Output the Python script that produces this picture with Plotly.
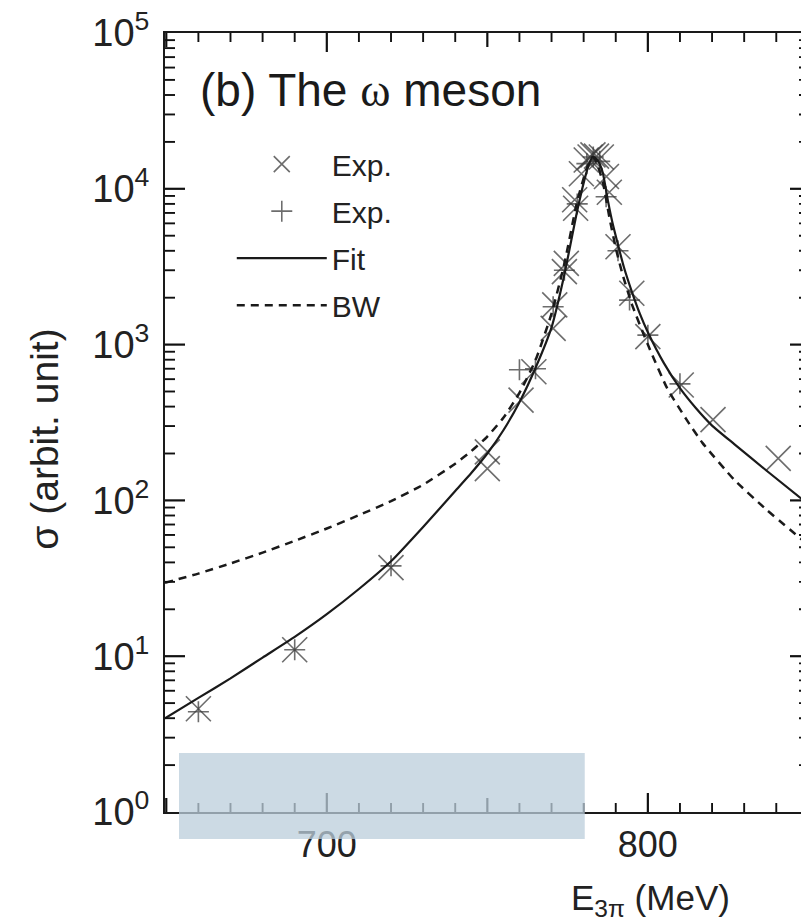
import math
import plotly.graph_objects as go

# ---------------- data ----------------
exp_x_E = [660, 690, 720, 750, 750, 760.5, 764.5, 770.5, 771, 774, 774.6, 777.5, 777.2,
           779.3, 780.8, 782.0, 782.9, 784.0, 785.5, 787.1, 788.0, 790.7, 795, 800,
           810.4, 820.3, 840.6]
exp_x_sigma = [4.6, 11, 37, 205, 160, 440, 670, 1270, 1800, 2940, 3320, 7500, 8500,
               12500, 15300, 16000, 16500, 16200, 16000, 12000, 9500, 4250, 2135, 1125,
               550, 330, 186]

exp_p_E = [660, 690, 720, 760, 765, 770.5, 774, 778, 781, 783, 785, 787, 790.7, 794.3,
           800, 810]
exp_p_sigma = [4.4, 11, 38, 690, 700, 1750, 3000, 8000, 14500, 16000, 15000, 8900, 4000,
               1930, 1150, 560]

fit_E = [649.6, 660, 670, 680, 690, 700, 710, 720, 730, 740, 745, 750, 755, 760, 765,
         770, 774, 778, 780.8, 782, 782.8, 784, 785, 786, 787.6, 789, 790.7, 792.5, 795,
         797.5, 800, 805, 810, 815, 820, 827, 837, 848]
fit_sigma = [4.0, 5.4, 7.2, 9.8, 13.3, 18.6, 27, 40.7, 67.6, 115, 150, 200, 282, 427,
             708, 1290, 2820, 7240, 12600, 15000, 16000, 15500, 14450, 12600, 8300, 6030,
             4370, 3160, 2190, 1580, 1200, 760, 525, 390, 302, 229, 155, 102]

bw_E = [649.6, 660, 670, 680, 690, 700, 710, 720, 730, 740, 745, 750, 755, 760, 765,
        770, 774, 778, 780.8, 782.8, 784, 786, 788, 790, 792, 795, 800, 806, 812, 817,
        827, 837, 848]
bw_sigma = [29.6, 33.9, 39.4, 46.2, 55, 66, 80.4, 98.9, 126, 172, 207, 257, 339, 490,
            794, 1580, 3310, 8320, 13200, 16000, 14800, 11000, 6600, 4170, 2880, 1820,
            1000, 525, 331, 234, 135, 87, 56]

# ---------------- ticks ----------------
x_tickvals = [700, 800]
x_ticktext = ["700", "800"]
x_mid_ticks = [650, 750]
x_minor_ticks = [v for v in range(660, 850, 10) if v % 50 != 0]
y_tickvals = [1, 10, 100, 1000, 10000, 100000]
y_ticktext = ["10<sup>0</sup>", "10<sup>1</sup>", "10<sup>2</sup>", "10<sup>3</sup>",
              "10<sup>4</sup>", "10<sup>5</sup>"]
y_minor_ticks = [m * 10 ** k for k in range(5) for m in range(2, 10)]

FONT = "Liberation Sans, Arial, Helvetica, sans-serif"
INK = "#111111"
MARK = "rgba(60,60,60,0.75)"
X_RANGE = [649.6, 847.7]
Y_LOG_RANGE = [0, 5]
W, H = 801, 922
M_L, M_R, M_T, M_B = 165, 0, 33, 110
PLOT_W = W - M_L - M_R
PLOT_H = H - M_T - M_B
X_PER_PX = (X_RANGE[1] - X_RANGE[0]) / PLOT_W
DEC_PER_PX = (Y_LOG_RANGE[1] - Y_LOG_RANGE[0]) / PLOT_H

fig = go.Figure()
fig.add_trace(go.Scatter(x=exp_x_E, y=exp_x_sigma, mode="markers", name="Exp.",
                         legendgroup="a",
                         marker=dict(symbol="x-thin", size=25, color=MARK,
                                     line=dict(color=MARK, width=1.6))))
fig.add_trace(go.Scatter(x=exp_p_E, y=exp_p_sigma, mode="markers", name="Exp.",
                         legendgroup="b",
                         marker=dict(symbol="cross-thin", size=15, color=MARK,
                                     line=dict(color=MARK, width=1.6))))
fig.add_trace(go.Scatter(x=fit_E, y=fit_sigma, mode="lines", name="Fit", legendgroup="c",
                         line=dict(color="#1a1a1a", width=2.2, shape="spline",
                                   smoothing=0.5)))
fig.add_trace(go.Scatter(x=bw_E, y=bw_sigma, mode="lines", name="BW", legendgroup="d",
                         line=dict(color="#1a1a1a", width=2.5, dash="8px,6px",
                                   shape="spline", smoothing=0.5)))


# inward tick marks (built from the tick arrays and the axis scale)
def tick_segments(xticks, yticks):
    xs, ys = [], []
    for v, length in xticks:
        d = length * DEC_PER_PX
        xs += [v, v, None, v, v, None]
        ys += [10 ** Y_LOG_RANGE[0], 10 ** (Y_LOG_RANGE[0] + d), None,
               10 ** Y_LOG_RANGE[1], 10 ** (Y_LOG_RANGE[1] - d), None]
    for v, length, rlen in yticks:
        xs += [X_RANGE[0], X_RANGE[0] + length * X_PER_PX, None,
               X_RANGE[1] - rlen * X_PER_PX, X_RANGE[1], None]
        ys += [v, v, None, v, v, None]
    return xs, ys


major_x, major_y = tick_segments([(v, 19) for v in x_tickvals] +
                                 [(v, 14) for v in x_mid_ticks],
                                 [(v, 20, 11) for v in y_tickvals[1:-1]])
minor_x, minor_y = tick_segments([(v, 9) for v in x_minor_ticks],
                                 [(v, 10, 2) for v in y_minor_ticks])
fig.add_trace(go.Scatter(x=major_x, y=major_y, mode="lines", showlegend=False,
                         hoverinfo="skip", line=dict(color=INK, width=2.2)))
fig.add_trace(go.Scatter(x=minor_x, y=minor_y, mode="lines", showlegend=False,
                         hoverinfo="skip", line=dict(color=INK, width=1.9)))

fig.update_layout(
    template="none",
    width=W, height=H,
    margin=dict(l=M_L, r=M_R, t=M_T, b=M_B),
    paper_bgcolor="white", plot_bgcolor="rgba(0,0,0,0)",
    font=dict(family=FONT, color="#222"),
    showlegend=True,
    legend=dict(x=0.105, y=0.865, xanchor="left", yanchor="top",
                bgcolor="rgba(0,0,0,0)", borderwidth=0, itemwidth=90,
                tracegroupgap=5, font=dict(family=FONT, size=30, color="#222")),
    annotations=[
        dict(text="(b) The <span style=\"font-family:'Liberation Serif'\">ω</span> meson",
             xref="paper", yref="paper", x=0.052, y=0.927, xanchor="left",
             yanchor="middle", showarrow=False,
             font=dict(family=FONT, size=46, color="#1a1a1a")),
        dict(text="σ (arbit. unit)", textangle=-90, xref="paper", yref="paper",
             x=-0.189, y=0.479, xanchor="center", yanchor="middle", showarrow=False,
             font=dict(family=FONT, size=39, color="#222")),
        dict(text="E<sub>3π</sub> (MeV)", xref="paper", yref="paper",
             x=0.7626, y=-0.113, xanchor="center", yanchor="middle", showarrow=False,
             font=dict(family=FONT, size=35, color="#222")),
    ],
    shapes=[dict(type="rect", xref="paper", yref="paper", x0=0.022, x1=0.660,
                 y0=-0.0346, y1=0.0756, line=dict(width=0),
                 fillcolor="rgba(187,206,219,0.75)", layer="above")],
    xaxis=dict(range=X_RANGE, tickmode="array", tickvals=x_tickvals,
               ticktext=x_ticktext, ticks="", showline=True, linecolor="#1a1a1a",
               linewidth=2, mirror=True, showgrid=False, zeroline=False,
               tickfont=dict(family=FONT, size=36, color="#222")),
    yaxis=dict(type="log", range=Y_LOG_RANGE, tickmode="array", tickvals=y_tickvals,
               ticktext=y_ticktext, ticks="", showline=True, linecolor="#1a1a1a",
               linewidth=2, mirror=False, showgrid=False, zeroline=False,
               ticklabelstandoff=6,
               tickfont=dict(family=FONT, size=38, color="#222")),
)

fig.write_html("out.html")
